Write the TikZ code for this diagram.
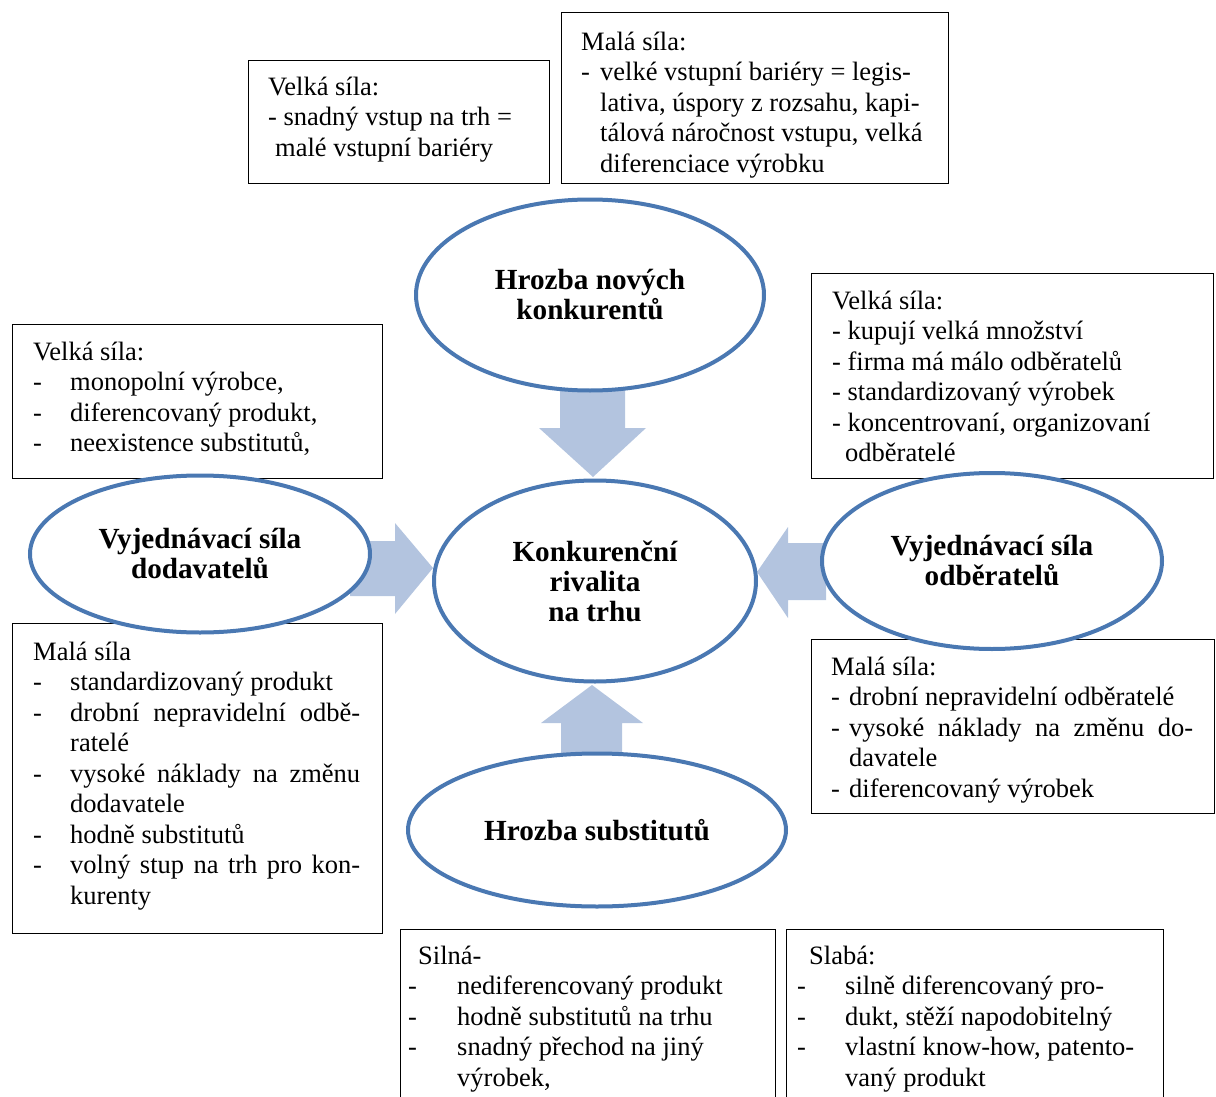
\documentclass[tikz,border=0pt]{standalone}
\usepackage{fontspec}
\setmainfont{Liberation Serif}
\usetikzlibrary{shapes.geometric}
\definecolor{ellblue}{HTML}{4A78B2}
\definecolor{arrfill}{HTML}{B3C4DF}
% dash column of a list item, justified line, first-line strut
\newcommand{\dl}[1]{\makebox[#1][l]{-}}
\newcommand{\jl}[2]{\makebox[#1][s]{#2}}
\newcommand{\fs}{\rule{0pt}{22pt}}

\begin{document}
\begin{tikzpicture}[x=1pt,y=-1pt,
  box/.style={draw=black, line width=1.4pt, inner sep=0pt, anchor=north west},
  txt/.style={inner sep=0pt, anchor=north west, align=left,
              font=\fontsize{26.5}{30.5}\selectfont},
  force/.style={ellipse, draw=ellblue, line width=4pt, fill=white, inner sep=0pt,
                align=center, font=\fontsize{29.2}{30}\selectfont\bfseries},
  blockarrow/.style={fill=arrfill, draw=none}]

\clip (0,0) rectangle (1216,1097);

% frames of the description boxes
\node[box, minimum width=301pt, minimum height=123pt] (b1) at (248,60) {};
\node[box, minimum width=387pt, minimum height=171pt] (b2) at (561,12) {};
\node[box, minimum width=402pt, minimum height=205pt] (b3) at (811,273) {};
\node[box, minimum width=370pt, minimum height=154pt] (b4) at (12,324) {};
\node[box, minimum width=370pt, minimum height=310pt] (b5) at (12,623) {};
\node[box, minimum width=403pt, minimum height=174pt] (b6) at (811,639) {};
\node[box, minimum width=375pt, minimum height=200pt] (b7) at (400,929) {};
\node[box, minimum width=377pt, minimum height=200pt] (b8) at (786,929) {};

% block arrows pointing to the centre
\fill[blockarrow] (560,385) -- (560,428) -- (539,428) -- (593,477) -- (646,428) -- (625,428) -- (625,385) -- cycle;
\fill[blockarrow] (561,758) -- (561,723) -- (541,723) -- (592,685) -- (643,723) -- (622,723) -- (622,758) -- cycle;
\fill[blockarrow] (350,541) -- (395,541) -- (395,523) -- (433,568) -- (395,614) -- (395,596) -- (350,596) -- cycle;
\fill[blockarrow] (826,543) -- (788,543) -- (788,527) -- (757,572) -- (788,618) -- (788,600) -- (826,600) -- cycle;

% the five forces
\node[force, minimum width=348pt, minimum height=191pt] (entry) at (590,295) {Hrozba nových\\konkurentů};
\node[force, minimum width=322pt, minimum height=201pt] (rivalry) at (595,581) {Konkurenční\\rivalita\\na trhu};
\node[force, minimum width=340pt, minimum height=157pt] (suppliers) at (200,554) {Vyjednávací síla\\dodavatelů};
\node[force, minimum width=340pt, minimum height=176pt] (buyers) at (992,561) {Vyjednávací síla\\odběratelů};
\node[force, minimum width=378pt, minimum height=153pt] (substitutes) at (597,830) {Hrozba substitutů};

% box contents
\node[txt] (t1) at (268,73) {\fs Velká síla:\\- snadný vstup na trh =\\\hspace*{7pt}malé vstupní bariéry};
\node[txt] (t2) at (581,28) {\fs Malá síla:\\\dl{19pt}velké vstupní bariéry = legis-\\\hspace*{19pt}lativa, úspory z rozsahu, kapi-\\\hspace*{19pt}tálová náročnost vstupu, velká\\\hspace*{19pt}diferenciace výrobku};
\node[txt] (t3) at (832,287) {\fs Velká síla:\\- kupují velká množství\\- firma má málo odběratelů\\- standardizovaný výrobek\\- koncentrovaní, organizovaní\\\hspace*{13pt}odběratelé};
\node[txt] (t4) at (33,338) {\fs Velká síla:\\\dl{37pt}monopolní výrobce,\\\dl{37pt}diferencovaný produkt,\\\dl{37pt}neexistence substitutů,};
\node[txt] (t5) at (33,638) {\fs Malá síla\\\dl{37pt}standardizovaný produkt\\\dl{37pt}\jl{290pt}{drobní nepravidelní odbě-}\\\hspace*{37pt}ratelé\\\dl{37pt}\jl{290pt}{vysoké náklady na změnu}\\\hspace*{37pt}dodavatele\\\dl{37pt}hodně substitutů\\\dl{37pt}\jl{290pt}{volný stup na trh pro kon-}\\\hspace*{37pt}kurenty};
\node[txt] (t6) at (831,653) {\fs Malá síla:\\\dl{18pt}drobní nepravidelní odběratelé\\\dl{18pt}\jl{344pt}{vysoké náklady na změnu do-}\\\hspace*{18pt}davatele\\\dl{18pt}diferencovaný výrobek};
\node[txt] (t7) at (408,942) {\fs\hspace*{10pt}Silná-\\\dl{49pt}nediferencovaný produkt\\\dl{49pt}hodně substitutů na trhu\\\dl{49pt}snadný přechod na jiný\\\hspace*{49pt}výrobek,};
\node[txt] (t8) at (797,942) {\fs\hspace*{12pt}Slabá:\\\dl{48pt}silně diferencovaný pro-\\\dl{48pt}dukt, stěží napodobitelný\\\dl{48pt}vlastní know-how, patento-\\\hspace*{48pt}vaný produkt};
\end{tikzpicture}
\end{document}
